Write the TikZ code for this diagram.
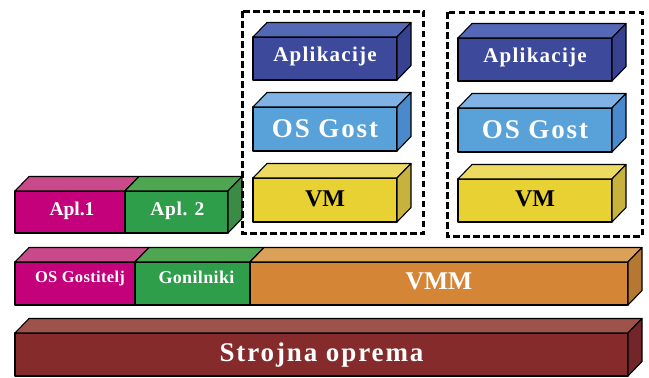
\documentclass[tikz,border=0pt]{standalone}
\usepackage{fontspec}
\setmainfont{Liberation Serif}
\usetikzlibrary{positioning}
\tikzset{%
  face/.style={draw=black,line width=1.1pt,line join=round},
  front/.style={face,rectangle,inner sep=0pt,outer sep=0pt},
  dims/.style 2 args={minimum width=#1,minimum height=#2},
  lbl/.style={text=white,anchor=base,inner sep=0pt},
  vmframe/.style={draw=black,line width=3pt,dash pattern=on 6.5pt off 3.5pt}
}
\definecolor{appF}{rgb}{0.24,0.29,0.61}
\definecolor{appT}{rgb}{0.33,0.41,0.71}
\definecolor{appS}{rgb}{0.21,0.26,0.56}
\definecolor{osgF}{rgb}{0.35,0.63,0.85}
\definecolor{osgT}{rgb}{0.50,0.70,0.90}
\definecolor{osgS}{rgb}{0.29,0.54,0.80}
\definecolor{vmF}{rgb}{0.91,0.82,0.20}
\definecolor{vmT}{rgb}{0.93,0.86,0.38}
\definecolor{vmS}{rgb}{0.78,0.70,0.24}
\definecolor{hostF}{rgb}{0.77,0.00,0.48}
\definecolor{hostT}{rgb}{0.79,0.29,0.54}
\definecolor{hostS}{rgb}{0.65,0.00,0.40}
\definecolor{drvF}{rgb}{0.18,0.62,0.29}
\definecolor{drvT}{rgb}{0.31,0.65,0.32}
\definecolor{drvS}{rgb}{0.23,0.54,0.27}
\definecolor{vmmF}{rgb}{0.83,0.52,0.21}
\definecolor{vmmT}{rgb}{0.86,0.63,0.35}
\definecolor{vmmS}{rgb}{0.71,0.47,0.20}
\definecolor{hwF}{rgb}{0.52,0.17,0.17}
\definecolor{hwT}{rgb}{0.62,0.32,0.30}
\definecolor{hwS}{rgb}{0.45,0.15,0.16}
\def\dx{14}
\def\dy{14.5}
% font size, letter spacing
\NewDocumentCommand\fs{mm}{\fontsize{#1}{#1}\selectfont\bfseries\addfontfeature{LetterSpace=#2}}
% #1 name, #2 placement, #3 colour, #4 label, #5 label options
\NewDocumentCommand\cuboid{mmmmO{}}{%
  \node[front,fill=#3F,#2] (#1) {};
  \filldraw[face,fill=#3T] (#1.north west) -- ++(\dx,-\dy)
    -- ([shift={(\dx,-\dy)}]#1.north east) -- (#1.north east) -- cycle;
  \filldraw[face,fill=#3S] (#1.north east) -- ++(\dx,-\dy)
    -- ([shift={(\dx,-\dy)}]#1.south east) -- (#1.south east) -- cycle;
  \node[lbl,#5] (#1-lbl) at (#1.south) {#4};
}
\begin{document}
\begin{tikzpicture}[x=1pt,y=-1pt]
  \useasboundingbox (0,0) rectangle (649,378);
  % Hardware and host layer
  \cuboid{hw}{dims={613pt}{43pt},anchor=north west,at={(15,333)}}{hw}%
    {Strojna oprema}[font={\fs{27}{7}},yshift=15pt]
  \cuboid{host}{dims={120pt}{43pt},anchor=north west,at={(15,262)}}{host}%
    {OS Gostitelj}[font={\fs{16.5}{2}},yshift=23pt,xshift=5pt]
  \cuboid{drv}{dims={115pt}{43pt},anchor=north west,at={(135,262)}}{drv}%
    {Gonilniki}[font={\fs{18}{2}},yshift=22pt,xshift=4pt]
  \cuboid{vmm}{dims={378pt}{43pt},anchor=north west,at={(250,262)}}{vmm}%
    {VMM}[font={\fs{25.5}{0}},yshift=15.5pt]
  % Host applications
  \cuboid{apl1}{dims={110pt}{42pt},anchor=north west,at={(15,191)}}{host}%
    {Apl.1}[font={\fs{19.5}{0}},yshift=17.5pt,xshift=2pt]
  \cuboid{apl2}{dims={103pt}{42pt},anchor=north west,at={(125,191)}}{drv}%
    {Apl. 2}[font={\fs{19.5}{3}},yshift=17.5pt,xshift=1pt]
  % Virtual machines
  \draw[vmframe] (242.5,11) rectangle (423.5,233.5);
  \draw[vmframe] (447,12) rectangle (642,236);
  \cuboid{app1}{dims={144pt}{43pt},anchor=north west,at={(253,37)}}{app}%
    {Aplikacije}[font={\fs{21}{6}},yshift=19pt]
  \cuboid{osg1}{dims={144pt}{44pt},below=27pt of app1}{osg}%
    {OS Gost}[font={\fs{27}{7}},yshift=14pt]
  \cuboid{vm1}{dims={144pt}{44pt},below=27pt of osg1}{vm}%
    {VM}[font={\fs{24}{0}},text=black,yshift=16pt]
  \cuboid{app2}{dims={154pt}{43pt},anchor=north west,at={(458,38)}}{app}%
    {Aplikacije}[font={\fs{21}{6}},yshift=19pt]
  \cuboid{osg2}{dims={154pt}{44pt},below=27pt of app2}{osg}%
    {OS Gost}[font={\fs{27}{7}},yshift=14pt]
  \cuboid{vm2}{dims={154pt}{43pt},below=27pt of osg2}{vm}%
    {VM}[font={\fs{24}{0}},text=black,yshift=16pt]
\end{tikzpicture}
\end{document}
